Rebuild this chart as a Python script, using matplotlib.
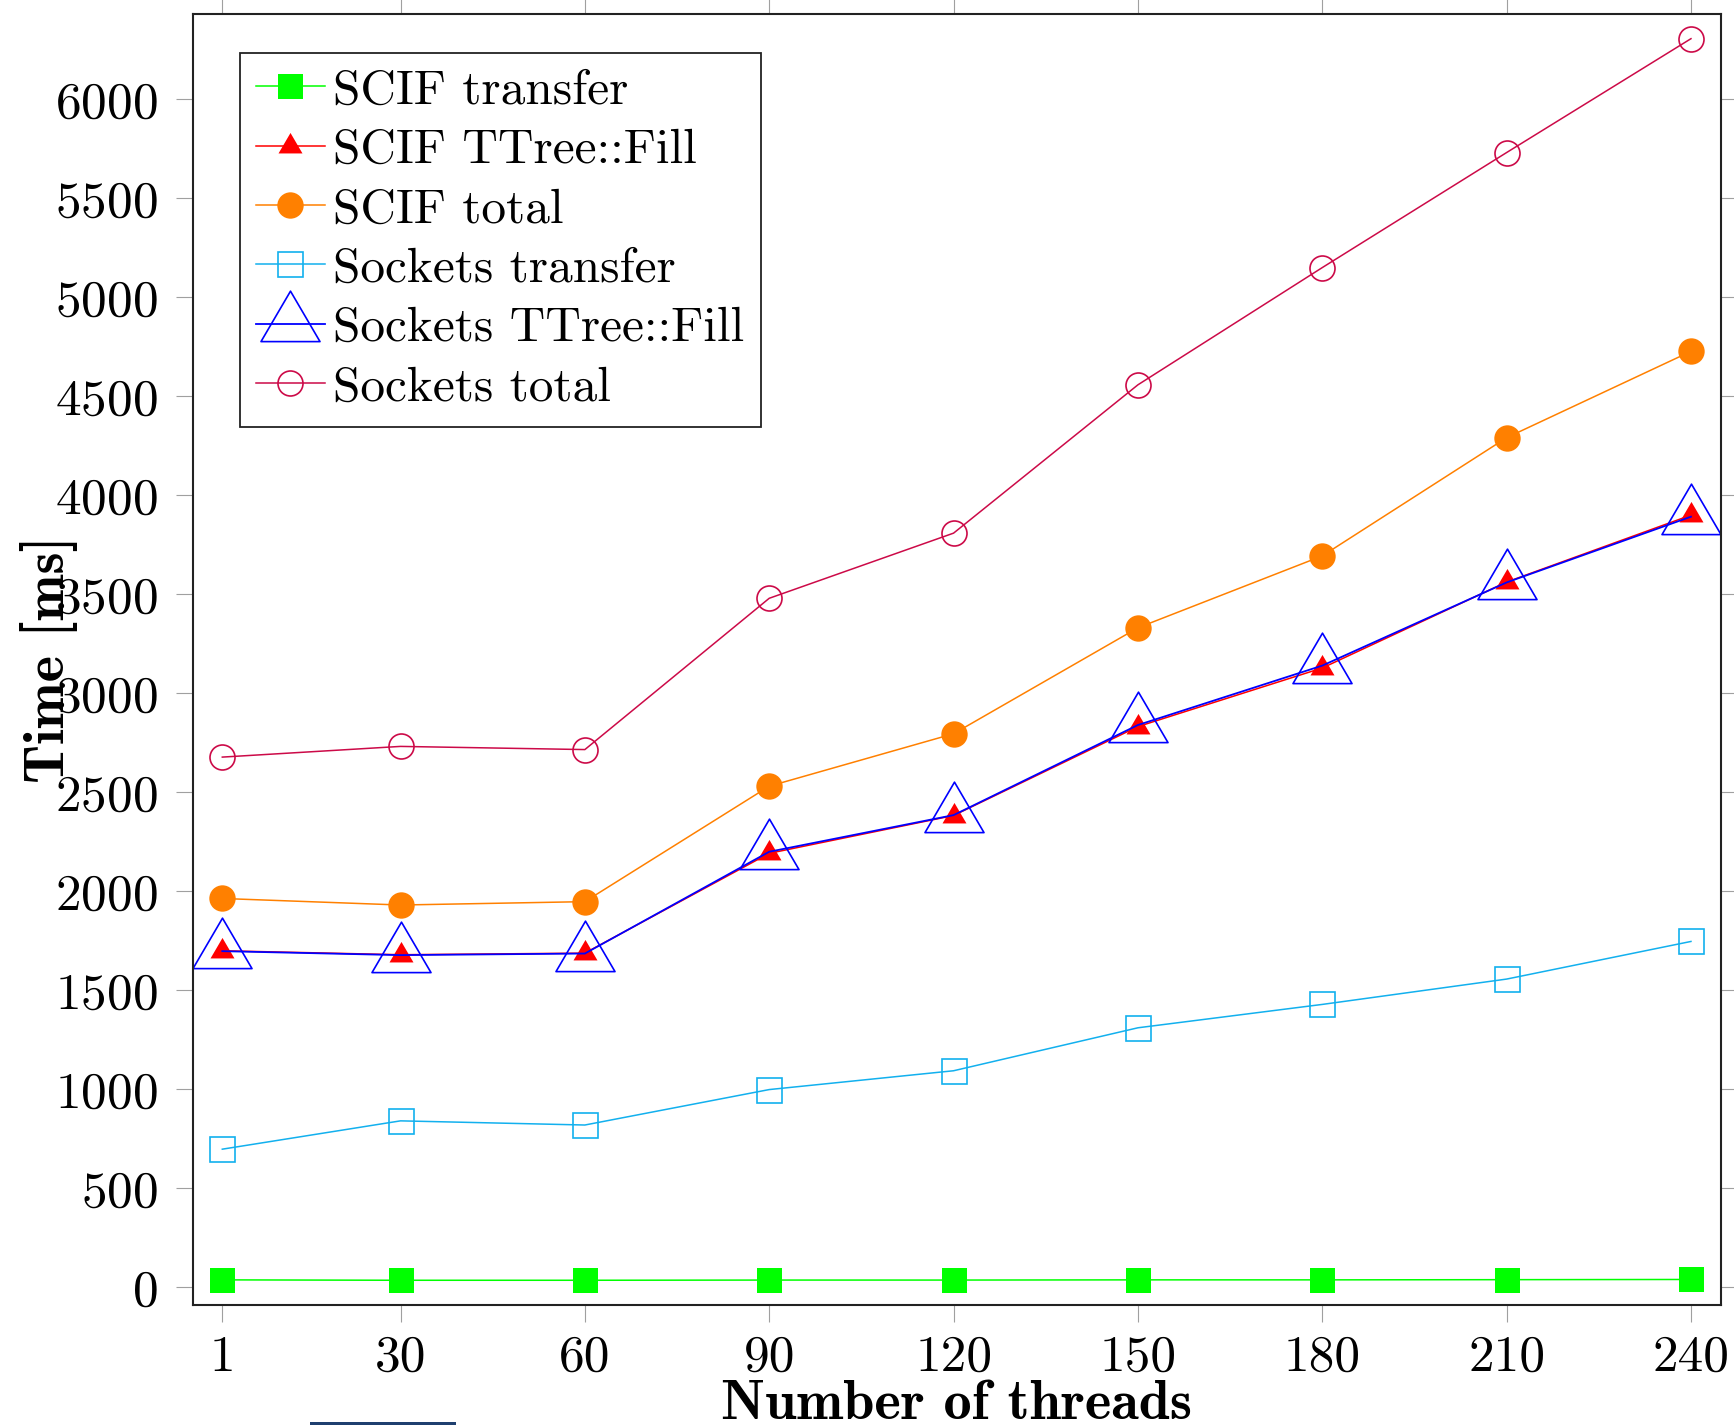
import matplotlib
matplotlib.use("Agg")
import matplotlib.pyplot as plt
from matplotlib.path import Path
from matplotlib.patches import Rectangle

plt.rcParams['font.family'] = 'cmr10'
plt.rcParams['mathtext.fontset'] = 'cm'
plt.rcParams['axes.unicode_minus'] = False
plt.rcParams['axes.formatter.use_mathtext'] = True

# --- data ---
threads = [1, 30, 60, 90, 120, 150, 180, 210, 240]

scif_transfer = [38, 36, 36, 37, 37, 38, 38, 39, 40]
scif_fill = [1700, 1680, 1688, 2192, 2383, 2832, 3128, 3562, 3900]
scif_total = [1964, 1931, 1948, 2531, 2796, 3331, 3694, 4291, 4727]
sock_transfer = [698, 841, 820, 999, 1094, 1311, 1429, 1557, 1747]
sock_fill = [1698, 1678, 1686, 2200, 2385, 2840, 3140, 3560, 3892]
sock_total = [2678, 2732, 2716, 3480, 3809, 4558, 5150, 5731, 6306]

# pgfplots-like triangle (centred on its centroid)
tri = [(0, 1.13), (-1, -0.58), (1, -0.58), (0, 1.13)]
tri_marker = Path(tri, closed=True)

fig = plt.figure(figsize=(17.34, 14.25), dpi=100)
ax = fig.add_axes([0.1113, 0.0842, 0.881, 0.9063])

x = threads
lw = 1.1

ax.plot(x, scif_transfer, color='#00ff00', lw=lw, marker='s', ms=18,
        mfc='#00ff00', mec='#00ff00', mew=0, label='SCIF transfer')
ax.plot(x, scif_fill, color='#ff0000', lw=lw, marker=tri_marker, ms=19.5,
        mfc='#ff0000', mec='#ff0000', mew=0, label='SCIF TTree::Fill')
ax.plot(x, scif_total, color='#ff8000', lw=lw, marker='o', ms=19,
        mfc='#ff8000', mec='#ff8000', mew=0, label='SCIF total')
ax.plot(x, sock_transfer, color='#12b0ee', lw=lw, marker='s', ms=18,
        mfc='none', mec='#12b0ee', mew=1.2, label='Sockets transfer')
ax.plot(x, sock_fill, color='#0000ff', lw=1.3, marker=tri_marker, ms=48,
        mfc='none', mec='#0000ff', mew=1.2, label='Sockets TTree::Fill')
ax.plot(x, sock_total, color='#cc0a48', lw=lw, marker='o', ms=18,
        mfc='none', mec='#cc0a48', mew=1.2, label='Sockets total')

ax.set_xlim(-3.77, 244.83)
ax.set_ylim(-89, 6433)
ax.set_xticks(threads)
ax.set_xticklabels([str(t) for t in threads])
ax.set_yticks(range(0, 6001, 500))

ax.tick_params(axis='both', which='major', direction='out', length=12.5,
               width=0.8, color='#a0a0a0', labelsize=37, top=True, right=True)
ax.tick_params(axis='y', pad=13)
ax.tick_params(axis='x', pad=9)
for sp in ax.spines.values():
    sp.set_linewidth(1.5)
    sp.set_color('#222222')

ax.set_xlabel('Number of threads', fontfamily='cmb10', fontsize=40.5,
              va='baseline')
ax.xaxis.set_label_coords(0.5, -0.0883)
ax.set_ylabel('Time [ms]', fontfamily='cmb10', fontsize=40.5, va='center')
ax.yaxis.set_label_coords(-0.094, 0.5)

leg = ax.legend(loc='upper left', bbox_to_anchor=(0.0305, 0.9695),
                borderaxespad=0, fontsize=35.5, frameon=True, fancybox=False,
                framealpha=1, edgecolor='#222222', handlelength=1.4,
                handletextpad=0.17, borderpad=0.33, labelspacing=0.30)
leg.get_frame().set_linewidth(1.3)

# small dark bar cut off at the bottom edge of the original image
fig.add_artist(Rectangle((310 / 1734, 0), 146 / 1734, 3 / 1425,
                         transform=fig.transFigure, color='#1f3f6f', lw=0))

fig.savefig('out.png', dpi=100)
